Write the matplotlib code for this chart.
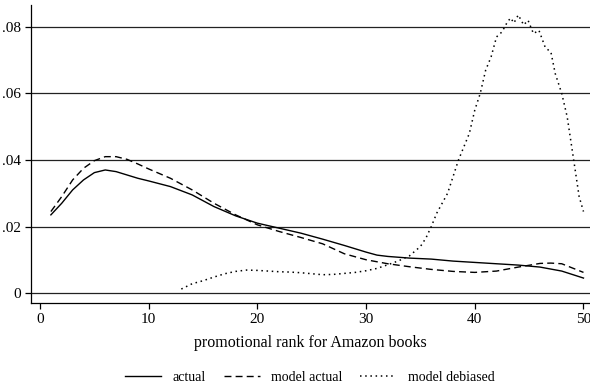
import matplotlib.pyplot as plt

# Densities by promotional rank
rank_actual = [1, 2, 3, 4, 5, 6, 7, 8, 9, 10, 12, 14, 16, 18, 20, 22, 24, 26, 28,
               30, 31, 32, 34, 36, 38, 40, 42, 44, 45, 46, 48, 50]
actual = [0.0235, 0.027, 0.031, 0.034, 0.0362, 0.037, 0.0365, 0.0355, 0.0345, 0.0337,
          0.032, 0.0295, 0.026, 0.0232, 0.021, 0.0195, 0.018, 0.0162, 0.0143,
          0.0123, 0.0114, 0.011, 0.0105, 0.0102, 0.0096, 0.0092, 0.0088, 0.0084,
          0.0081, 0.0078, 0.0066, 0.0045]

rank_model = [1, 2, 3, 4, 5, 6, 7, 8, 9, 10, 12, 14, 16, 18, 20, 22, 24, 26, 28,
              30, 32, 34, 36, 38, 40, 42, 44, 46, 47, 48, 50]
model_actual = [0.0245, 0.029, 0.034, 0.0375, 0.0398, 0.041, 0.041, 0.0402, 0.0388,
                0.0373, 0.0345, 0.031, 0.027, 0.0235, 0.0205, 0.0185, 0.0167,
                0.0148, 0.0118, 0.0100, 0.0088, 0.0079, 0.0071, 0.0065, 0.0062,
                0.0066, 0.0078, 0.0089, 0.009, 0.0088, 0.0062]

rank_debiased = [13, 14, 15, 16, 17, 18, 19, 20, 21, 22, 23, 24, 25, 26, 27, 28, 29,
                 30, 31, 32, 33, 34, 35, 35.5, 36, 36.5, 37, 37.5, 38, 38.5, 39,
                 39.5, 40, 40.5, 41, 41.5, 42, 42.5, 43, 43.3, 43.6, 44, 44.5, 44.9,
                 45.4, 45.9, 46.5, 47, 47.4, 48, 48.5, 49.1, 49.6, 50]
model_debiased = [0.0012, 0.0028, 0.0037, 0.0048, 0.0058, 0.0065, 0.0069, 0.0068,
                  0.0066, 0.0064, 0.0063, 0.0061, 0.0058, 0.0055, 0.0056, 0.0059,
                  0.0062, 0.0067, 0.0074, 0.0085, 0.0097, 0.0112, 0.014, 0.0165,
                  0.02, 0.024, 0.027, 0.030, 0.035, 0.040, 0.044, 0.048, 0.055,
                  0.060, 0.067, 0.071, 0.077, 0.0785, 0.0815, 0.0827, 0.0812,
                  0.0836, 0.0806, 0.082, 0.078, 0.079, 0.0737, 0.0725, 0.066,
                  0.060, 0.053, 0.040, 0.029, 0.0245]

y_ticks = [0, 0.02, 0.04, 0.06, 0.08]
y_labels = ['0', '.02', '.04', '.06', '.08']
x_ticks = [0, 10, 20, 30, 40, 50]

plt.rcParams['font.family'] = ['Liberation Serif', 'DejaVu Serif']

fig = plt.figure(figsize=(5.9, 3.86), dpi=100)
ax = fig.add_axes([31 / 590, 83 / 386, 559 / 590, 298 / 386])

# Gridlines
for yv in y_ticks:
    ax.axhline(yv, color='#222222', linewidth=0.9, zorder=1)

ax.plot(rank_actual, actual, color='black', linewidth=1.0, label='actual', zorder=3)
ax.plot(rank_model, model_actual, color='black', linewidth=1.0,
        linestyle=(0, (5, 3)), label='model actual', zorder=3)
ax.plot(rank_debiased, model_debiased, color='black', linewidth=1.1,
        linestyle=(0, (1, 2.4)), label='model debiased', zorder=3)

ax.set_xlim(-0.83, 50.6)
ax.set_ylim(-0.003, 0.0866)
ax.set_yticks(y_ticks)
ax.set_yticklabels(y_labels)
ax.set_xticks(x_ticks)

for side in ['top', 'right']:
    ax.spines[side].set_visible(False)
for side in ['left', 'bottom']:
    ax.spines[side].set_linewidth(0.9)

ax.tick_params(axis='both', direction='out', length=4, width=0.9, labelsize=11)
ax.set_xlabel('promotional rank for Amazon books', fontsize=11.5, labelpad=6)

fig.legend(loc='lower center', bbox_to_anchor=(0.525, -0.028), ncol=3, frameon=False,
           fontsize=10, handlelength=2.6, columnspacing=1.3, handletextpad=0.8)

fig.savefig('out.png', dpi=100)
